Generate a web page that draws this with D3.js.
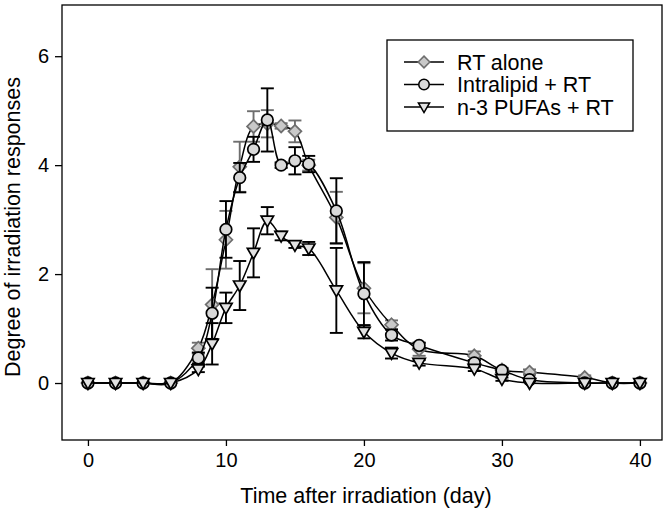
<!DOCTYPE html>
<html lang="en">
<head>
<meta charset="UTF-8">
<title>Degree of irradiation responses</title>
<script src="https://d3js.org/d3.v7.min.js"></script>
<style>
    body { margin: 0; background: #fff; }
    svg { font-family: "Liberation Sans", Arial, sans-serif; }
    .axis path, .axis line { stroke: #000; stroke-width: 1.3; }
    .axis text { font-size: 20px; fill: #000; }
    .axis-title { font-size: 21.5px; fill: #000; }
    .legend text { font-size: 21.5px; fill: #000; }
</style>
</head>
<body>
<svg width="670" height="511"></svg>
<script>
    // days sampled
    const days = [0, 2, 4, 6, 8, 9, 10, 11, 12, 13, 14, 15, 16, 18, 20, 22, 24, 28, 30, 32, 36, 38, 40];

    const rtAlone    = [0, 0, 0, 0, 0.64, 1.44, 2.63, 3.97, 4.71, 4.76, 4.72, 4.62, 4.0, 3.04, 1.74, 1.07, 0.62, 0.5, 0.24, 0.2, 0.1, 0, 0];
    const rtAloneErr = [0, 0, 0, 0, 0.1, 0.65, 0.53, 0.46, 0.28, 0.25, 0.05, 0.2, 0.1, 0.47, 0.46, 0.08, 0.12, 0.08, 0.04, 0.05, 0.04, 0, 0];

    const intralipid    = [0, 0, 0, 0, 0.46, 1.28, 2.82, 3.77, 4.29, 4.83, 4.0, 4.08, 4.02, 3.16, 1.64, 0.88, 0.69, 0.37, 0.23, 0.06, 0, 0, 0];
    const intralipidErr = [0, 0, 0, 0, 0.1, 0.47, 0.52, 0.27, 0.23, 0.58, 0.05, 0.25, 0.15, 0.6, 0.58, 0.1, 0.05, 0.05, 0.04, 0.02, 0, 0, 0];

    const pufa    = [0, 0, 0, 0, 0.25, 0.72, 1.38, 1.79, 2.39, 2.98, 2.7, 2.53, 2.47, 1.7, 0.94, 0.55, 0.37, 0.26, 0.07, 0, 0, 0, 0];
    const pufaErr = [0, 0, 0, 0, 0.05, 0.38, 0.28, 0.45, 0.45, 0.25, 0.08, 0.05, 0.12, 0.78, 0.12, 0.1, 0.05, 0.04, 0.03, 0, 0, 0, 0];

    const seriesNames = ["RT alone", "Intralipid + RT", "n-3 PUFAs + RT"];
    const xTicks = [0, 10, 20, 30, 40];
    const yTicks = [0, 2, 4, 6];

    const svg = d3.select("svg");
    const frame = { left: 62, right: 662, top: 5, bottom: 440 };

    const x = d3.scaleLinear().domain([-1.88, 41.6]).range([frame.left, frame.right]);
    const y = d3.scaleLinear().domain([-1.046, 6.94]).range([frame.bottom, frame.top]);

    const styles = [
        { shape: "diamond", fill: "#c9c9c9", stroke: "#6e6e6e", err: "#6e6e6e" },
        { shape: "circle", fill: "#d9d9d9", stroke: "#000", err: "#000" },
        { shape: "triangle", fill: "#e2e2e2", stroke: "#000", err: "#000" }
    ];

    const series = [
        { name: seriesNames[0], vals: rtAlone, errs: rtAloneErr, style: styles[0] },
        { name: seriesNames[1], vals: intralipid, errs: intralipidErr, style: styles[1] },
        { name: seriesNames[2], vals: pufa, errs: pufaErr, style: styles[2] }
    ];

    // frame
    svg.append("rect")
        .attr("x", frame.left).attr("y", frame.top)
        .attr("width", frame.right - frame.left).attr("height", frame.bottom - frame.top)
        .attr("fill", "none").attr("stroke", "#000").attr("stroke-width", 1.3);

    svg.append("g").attr("class", "axis")
        .attr("transform", `translate(0,${frame.bottom})`)
        .call(d3.axisBottom(x).tickValues(xTicks).tickSize(6).tickSizeOuter(0).tickPadding(7))
        .call(g => g.select(".domain").remove());

    svg.append("g").attr("class", "axis")
        .attr("transform", `translate(${frame.left},0)`)
        .call(d3.axisLeft(y).tickValues(yTicks).tickSize(7).tickSizeOuter(0).tickPadding(6))
        .call(g => g.select(".domain").remove());

    svg.append("text").attr("class", "axis-title")
        .attr("x", 366).attr("y", 503)
        .attr("text-anchor", "middle")
        .text("Time after irradiation (day)");

    svg.append("text").attr("class", "axis-title")
        .attr("transform", `translate(20,227) rotate(-90)`)
        .attr("text-anchor", "middle")
        .text("Degree of irradiation responses");

    const line = d3.line()
        .x(d => x(d.day))
        .y(d => y(d.v))
        .curve(d3.curveCatmullRom.alpha(0.5));

    function marker(g, shape, fill, stroke) {
        if (shape === "circle") {
            g.append("circle").attr("r", 5.8);
        } else if (shape === "diamond") {
            g.append("path").attr("d", "M0,-6.5L6.5,0L0,6.5L-6.5,0Z");
        } else {
            g.append("path").attr("d", "M-6.2,-4.5L6.2,-4.5L0,6.2Z");
        }
        g.selectAll("*").attr("fill", fill).attr("stroke", stroke).attr("stroke-width", 1.7);
    }

    series.forEach(s => {
        const pts = days.map((d, i) => ({ day: d, v: s.vals[i], e: s.errs[i] }));
        const g = svg.append("g");

        // error bars
        pts.filter(p => p.e > 0).forEach(p => {
            const eg = g.append("g").attr("stroke", s.style.err).attr("stroke-width", 1.9);
            eg.append("line").attr("x1", x(p.day)).attr("x2", x(p.day))
                .attr("y1", y(p.v - p.e)).attr("y2", y(p.v + p.e));
            [p.v - p.e, p.v + p.e].forEach(v => {
                eg.append("line").attr("x1", x(p.day) - 6.5).attr("x2", x(p.day) + 6.5)
                    .attr("y1", y(v)).attr("y2", y(v));
            });
        });

        g.append("path").datum(pts)
            .attr("d", line)
            .attr("fill", "none")
            .attr("stroke", "#000")
            .attr("stroke-width", 1.5);

        pts.forEach(p => {
            const m = g.append("g").attr("transform", `translate(${x(p.day)},${y(p.v)})`);
            marker(m, s.style.shape, s.style.fill, s.style.stroke);
        });
    });

    // legend
    const legend = svg.append("g").attr("class", "legend");
    legend.append("rect")
        .attr("x", 387).attr("y", 40).attr("width", 246).attr("height", 91)
        .attr("fill", "#fff").attr("stroke", "#000").attr("stroke-width", 1.3);

    series.forEach((s, i) => {
        const cy = 62 + i * 22.5;
        legend.append("line").attr("x1", 404).attr("x2", 444).attr("y1", cy).attr("y2", cy)
            .attr("stroke", "#000").attr("stroke-width", 1.5);
        const m = legend.append("g").attr("transform", `translate(424,${cy}) scale(0.9)`);
        marker(m, s.style.shape, s.style.fill, s.style.stroke);
        legend.append("text").attr("x", 457).attr("y", cy).attr("dy", "0.36em").text(s.name);
    });
</script>
</body>
</html>
